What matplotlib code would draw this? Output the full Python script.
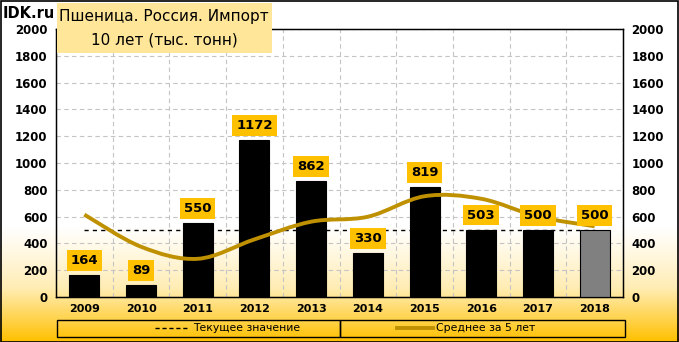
import numpy as np
import matplotlib
matplotlib.use("Agg")
import matplotlib.pyplot as plt
from matplotlib.path import Path
from matplotlib.patches import PathPatch, Rectangle
from matplotlib.lines import Line2D
from matplotlib.colors import LinearSegmentedColormap

years = ["2009", "2010", "2011", "2012", "2013", "2014", "2015", "2016", "2017", "2018"]
imports = [164, 89, 550, 1172, 862, 330, 819, 503, 500, 500]
avg_5y = [615, 375, 285, 430, 562, 599, 752, 733, 600, 528]
current_value = 500
y_ticks = [0, 200, 400, 600, 800, 1000, 1200, 1400, 1600, 1800, 2000]

W, H = 679, 342
GOLD = "#BF9000"
LABEL_BG = "#FFC000"


def smooth_path(xs, ys):
    """Excel-like smoothed line through the points (cubic bezier)."""
    pts = np.column_stack([xs, ys]).astype(float)
    verts = [pts[0]]
    codes = [Path.MOVETO]
    n = len(pts)
    for i in range(n - 1):
        p0 = pts[i - 1] if i > 0 else pts[i]
        p1 = pts[i]
        p2 = pts[i + 1]
        p3 = pts[i + 2] if i + 2 < n else pts[i + 1]
        c1 = p1 + (p2 - p0) / 6.0
        c2 = p2 - (p3 - p1) / 6.0
        verts += [c1, c2, p2]
        codes += [Path.CURVE4] * 3
    return Path(verts, codes)


fig = plt.figure(figsize=(W / 100, H / 100), dpi=100)

# background gradient
bg = fig.add_axes([0, 0, 1, 1], zorder=-10)
grad = np.linspace(0, 1, 400)
grad = np.clip((grad - 0.66) / 0.34, 0, 1) ** 1.1
cmap = LinearSegmentedColormap.from_list("bg", ["#FFFFFF", "#FFEDB5", "#FFC000"])
bg.imshow(grad[:, None], aspect="auto", cmap=cmap, extent=[0, 1, 0, 1], origin="upper")
bg.set_xlim(0, 1)
bg.set_ylim(0, 1)
bg.axis("off")
bg.add_patch(Rectangle((0.5 / W, 0.5 / H), 1 - 1.5 / W, 1 - 1.5 / H, fill=False,
                       edgecolor="black", lw=1.2, transform=bg.transAxes))

ax = fig.add_axes([56 / W, (H - 297) / H, 567 / W, 268 / H])
ax.set_facecolor("none")
x = np.arange(len(years))

colors = ["black"] * (len(years) - 1) + ["#808080"]
ax.bar(x, imports, width=0.53, color=colors, edgecolor="black", linewidth=0.8, zorder=3)

ax.plot([x[0], x[-1]], [current_value, current_value], color="black", lw=1,
        linestyle=(0, (3, 3)), zorder=2)

path = smooth_path(x, avg_5y)
ax.add_patch(PathPatch(path, facecolor="none", edgecolor=GOLD, lw=2.8, zorder=4,
                       capstyle="butt"))

for xi, v in zip(x, imports):
    ax.annotate(str(v), (xi, v), xytext=(0, 10.5), textcoords="offset points",
                ha="center", va="center", fontsize=9.5, fontweight="bold", zorder=6,
                bbox=dict(boxstyle="square,pad=0.3", facecolor=LABEL_BG, edgecolor="none"))

ax.set_xlim(-0.5, len(years) - 0.5)
ax.set_ylim(0, 2000)
ax.set_yticks(y_ticks)
ax.set_xticks(x)
ax.set_xticklabels(years, fontsize=8, fontweight="bold")
ax.set_yticklabels([str(t) for t in y_ticks], fontsize=8.5, fontweight="bold")
ax.tick_params(length=0, pad=6)
ax.tick_params(axis="x", pad=5)
ax.set_xticks(np.arange(len(years)) + 0.5, minor=True)
ax.tick_params(axis="x", which="minor", length=0)
ax.grid(True, axis="y", color="#C4C4C4", linestyle=(0, (4, 3)), lw=0.8, zorder=0)
ax.grid(True, axis="x", which="minor", color="#C4C4C4", linestyle=(0, (4, 3)), lw=0.8, zorder=0)
for s in ax.spines.values():
    s.set_linewidth(1)

ax2 = ax.twinx()
ax2.set_ylim(0, 2000)
ax2.set_yticks(y_ticks)
ax2.set_yticklabels([str(t) for t in y_ticks], fontsize=8.5, fontweight="bold")
ax2.tick_params(length=0, pad=6)

# title block
fig.patches.append(Rectangle((57 / W, 1 - 53 / H), 215 / W, 50 / H, transform=fig.transFigure,
                             facecolor="#FFE699", edgecolor="none", zorder=5))
fig.text(3 / W, 1 - 14 / H, "IDK.ru", fontsize=10.5, fontweight="bold", va="center", ha="left")
fig.text(164 / W, 1 - 16 / H, "Пшеница. Россия. Импорт", fontsize=11, va="center", ha="center", zorder=6)
fig.text(164 / W, 1 - 40 / H, "10 лет (тыс. тонн)", fontsize=11, va="center", ha="center", zorder=6)

# legend
ly = 1 - 328 / H
fig.patches.append(Rectangle((57 / W, 1 - 337 / H), 283 / W, 17 / H, transform=fig.transFigure,
                             facecolor="none", edgecolor="black", lw=1))
fig.patches.append(Rectangle((340 / W, 1 - 337 / H), 285 / W, 17 / H, transform=fig.transFigure,
                             facecolor="none", edgecolor="black", lw=1))
fig.lines.append(Line2D([155 / W, 187 / W], [ly, ly], transform=fig.transFigure, color="black",
                        lw=1, linestyle=(0, (3, 2))))
fig.text(193 / W, ly, "Текущее значение", fontsize=7.8, va="center", ha="left")
fig.lines.append(Line2D([397 / W, 433 / W], [ly, ly], transform=fig.transFigure, color=GOLD, lw=2.8))
fig.text(436 / W, ly, "Среднее за 5 лет", fontsize=7.8, va="center", ha="left")

fig.savefig("out.png", dpi=100)
